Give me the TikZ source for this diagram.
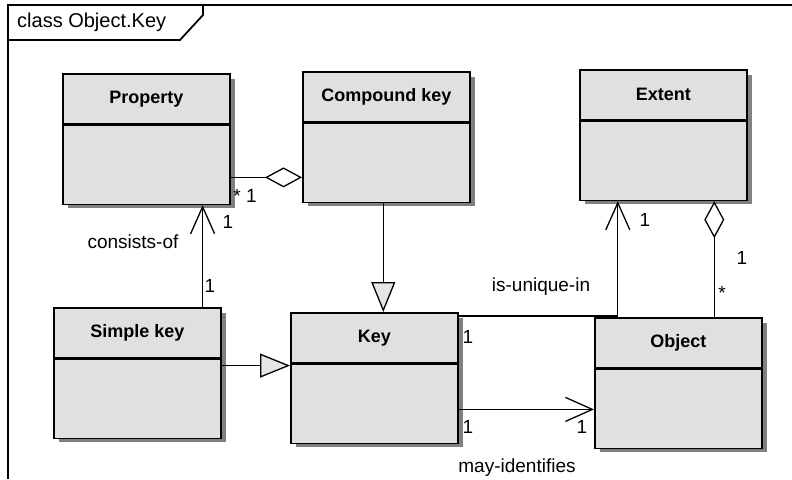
\documentclass[tikz,border=0pt]{standalone}
\usepackage{fontspec}
\setmainfont{Liberation Sans}
\usetikzlibrary{positioning,arrows.meta}

\tikzset{
  cls/.style={draw, line width=1.6pt, fill=black!12, minimum width=167pt, minimum height=50pt,
    inner sep=0pt, font=\fontsize{18}{20}\selectfont\bfseries},
  clsbody/.style={cls, minimum height=79pt},
  clsshadow/.style={fill=black!50, minimum width=167pt, minimum height=129pt, inner sep=0pt},
  assoc/.style={line width=1.3pt, -{Straight Barb[length=27pt, width=24pt, line width=1.3pt]}},
  agg/.style={line width=1.3pt, -{Diamond[length=37pt, width=20pt, fill=white, line width=1.3pt]}},
  gen/.style={line width=1.3pt, -{Triangle[length=30pt, width=24pt, fill=black!10, line width=1.3pt]}},
  lbl/.style={font=\fontsize{19}{21}\selectfont, inner sep=0pt}
}

\begin{document}
\begin{tikzpicture}[x=1pt, y=-1pt]
\useasboundingbox (0,0) rectangle (792,479);

% frame
\draw[line width=1.8pt] (8,479) -- (8,5) -- (792,5);
\draw[line width=1.8pt] (8,40) -- (180,40) -- (203,15) -- (203,5);
\node[lbl, font=\fontsize{20}{22}\selectfont, anchor=west] (title) at (17,22) {class Object.Key};

% shadows first, the classes go on top
\node[clsshadow, anchor=north west] (prop-s) at (68,79) {};
\node[clsshadow, anchor=north west] (ckey-s) at (308,77) {};
\node[clsshadow, anchor=north west] (ext-s) at (585,75) {};
\node[clsshadow, anchor=north west] (skey-s) at (59,313) {};
\node[clsshadow, anchor=north west] (key-s) at (296,318) {};
\node[clsshadow, anchor=north west] (obj-s) at (600,323) {};

% classes
\node[cls, anchor=north west] (prop) at (62,73) {Property};
\node[clsbody, below=0pt of prop] (prop-b) {};

\node[cls, anchor=north west] (ckey) at (302,71) {Compound key};
\node[clsbody, below=0pt of ckey] (ckey-b) {};

\node[cls, anchor=north west] (ext) at (579,69) {Extent};
\node[clsbody, below=0pt of ext] (ext-b) {};

\node[cls, anchor=north west] (skey) at (53,307) {Simple key};
\node[clsbody, below=0pt of skey] (skey-b) {};

\node[cls, anchor=north west] (key) at (290,312) {Key};
\node[clsbody, below=0pt of key] (key-b) {};

\node[cls, anchor=north west] (obj) at (594,317) {Object};
\node[clsbody, below=0pt of obj] (obj-b) {};

% consists-of
\draw[assoc] ([xshift=-19pt]skey.north east) -- ([xshift=-19pt]skey.north east |- prop-b.south);
\node[lbl] (c1) at (228,222) {1};
\node[lbl] (c2) at (210,286) {1};
\node[lbl] (cof) at (133,242) {consists-of};

% property -- compound key
\draw[agg] ([yshift=-12.5pt]prop-b.east) -- ([yshift=-12.5pt]prop-b.east -| ckey-b.west);
\node[lbl] (p1) at (245,196) {* 1};

% generalisations
\draw[gen] ([xshift=-3pt]ckey-b.south) -- ([xshift=-3pt]ckey-b.south |- key.north);
\draw[gen] ([yshift=-7pt]skey-b.north east) -- ([yshift=-7pt]skey-b.north east -| key.west);

% is-unique-in
\draw[assoc] ([yshift=-4pt]key.north east) -| ([xshift=-45.5pt]ext-b.south);
\node[lbl] (u1) at (645,220) {1};
\node[lbl] (u2) at (468,337) {1};
\node[lbl] (uin) at (541,287) {is-unique-in};

% object -- extent
\draw[agg] ([xshift=36pt]obj.north) -- ([xshift=36pt]obj.north |- ext-b.south);
\node[lbl] (e1) at (742,258) {1};
\node[lbl] (e2) at (722,293) {*};

% may-identifies
\draw[assoc] ([yshift=-5.5pt]key-b.east) -- ([yshift=-5.5pt]key-b.east -| obj-b.west);
\node[lbl] (m1) at (468,427) {1};
\node[lbl] (m2) at (582,427) {1};
\node[lbl] (mid) at (517,468) {may-identifies};
\end{tikzpicture}
\end{document}
